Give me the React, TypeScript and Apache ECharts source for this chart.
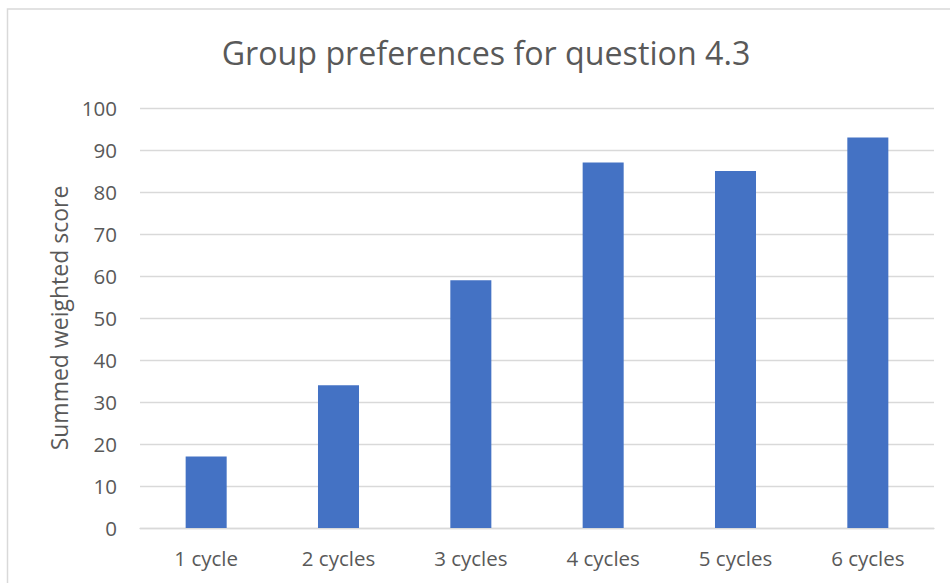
import React, { useEffect, useRef } from "react";
import * as echarts from "echarts";

const categories = ["1 cycle", "2 cycles", "3 cycles", "4 cycles", "5 cycles", "6 cycles"];
const scores = [17, 34, 59, 87, 85, 93];
const titleText = "Group preferences for question 4.3";
const yAxisName = "Summed weighted score";

const FONT = "'Open Sans', 'Liberation Sans', sans-serif";
const TEXT = "#595959";

export default function App() {
  const ref = useRef<HTMLDivElement>(null);
  useEffect(() => {
    if (!ref.current) return;
    const chart = echarts.init(ref.current, undefined, { renderer: "svg" });
    chart.setOption({
      animation: false,
      backgroundColor: "#ffffff",
      title: {
        text: titleText,
        left: 481,
        textAlign: "center",
        top: 31,
        textStyle: { fontFamily: FONT, fontSize: 32.2, fontWeight: "normal", color: TEXT },
      },
      graphic: [
        {
          type: "rect",
          shape: { x: 7.5, y: 9, width: 1000, height: 700 },
          style: { fill: "none", stroke: "#d9d9d9", lineWidth: 1.5 },
          silent: true,
        },
      ],
      grid: { left: 140, right: 16, top: 108, bottom: 55, containLabel: false },
      xAxis: {
        type: "category",
        data: categories,
        axisTick: { show: false },
        axisLine: { show: true, lineStyle: { color: "#d9d9d9", width: 1.3 } },
        axisLabel: { fontFamily: FONT, fontSize: 20.5, color: TEXT, margin: 19 },
      },
      yAxis: {
        type: "value",
        min: 0,
        max: 100,
        interval: 10,
        name: yAxisName,
        nameLocation: "middle",
        nameGap: 70,
        nameTextStyle: { fontFamily: FONT, fontSize: 23, color: TEXT },
        axisLine: { show: false },
        axisTick: { show: false },
        axisLabel: { fontFamily: FONT, fontSize: 20.5, color: TEXT, margin: 23 },
        splitLine: { lineStyle: { color: "#d9d9d9", width: 1.3 } },
      },
      series: [
        {
          type: "bar",
          data: scores,
          barWidth: "31%",
          itemStyle: { color: "#4472C4" },
        },
      ],
    });
    return () => chart.dispose();
  }, []);
  return (
    <div
      ref={ref}
      style={{ position: "fixed", left: 0, top: 0, width: 950, height: 583, background: "#fff" }}
    />
  );
}
